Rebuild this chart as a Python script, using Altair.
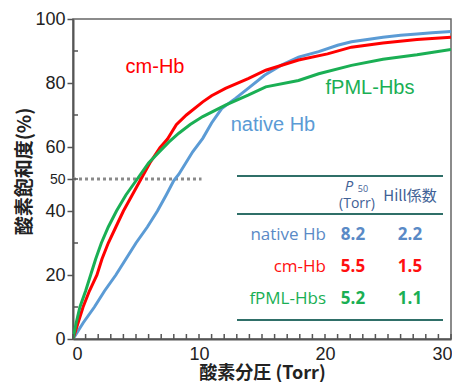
import altair as alt
import pandas as pd

# ---- data ----
native_x = [0, 0.8, 1.7, 2.5, 3.4, 4.2, 5.0, 5.9, 6.7, 7.4, 8.0, 8.4, 9.5, 10.3, 11.0, 11.8, 12.9, 13.9, 15.2, 16.5, 17.9, 19.5, 21.0, 22.1, 23.5, 24.6, 26.0, 27.3, 28.5, 30]
native_y = [0, 5, 10, 15, 20, 25, 30, 35, 40, 45, 49.5, 51.5, 58.5, 62.7, 67.5, 72, 75.2, 78.3, 82.4, 85.5, 88.1, 89.8, 91.8, 92.9, 93.7, 94.3, 94.9, 95.3, 95.7, 96.1]

cm_x = [0, 0.4, 0.8, 1.3, 1.9, 2.3, 2.8, 3.4, 4.0, 4.7, 5.4, 6.1, 6.9, 7.5, 8.2, 9.0, 10.3, 11.0, 12.1, 13.9, 15.3, 17.9, 20.2, 22.1, 24.6, 27.3, 30]
cm_y = [0, 5, 10, 15, 20, 25, 30, 35, 40, 45, 50, 55, 59.8, 62.5, 67, 70, 74.1, 76, 78.3, 81.4, 84, 87.2, 89.1, 91.2, 92.5, 93.6, 94.3]

fpml_x = [0, 0.25, 0.55, 1.0, 1.4, 1.8, 2.25, 2.8, 3.45, 4.2, 5.1, 6.0, 6.9, 7.6, 8.4, 9.3, 10.3, 12.1, 13.9, 15.3, 17.9, 19.5, 22.1, 24.6, 27.3, 30]
fpml_y = [0, 5, 10, 15, 20, 25, 30, 35, 40, 45, 50, 55, 58.7, 61.5, 64.3, 67, 69.5, 73.1, 76.2, 78.8, 80.8, 82.9, 85.5, 87.4, 88.8, 90.5]

series_names = ["native Hb", "cm-Hb", "fPML-Hbs"]
series_colors = ["#5b9bd5", "#ff0000", "#1aaf54"]
table_colors = ["#5a8ac6", "#ff1010", "#1aaf54"]
p50_values = ["8.2", "5.5", "5.2"]
hill_values = ["2.2", "1.5", "1.1"]

y_tick_values = [0, 20, 40, 50, 60, 80, 100]
y_minor_ticks = [10, 30, 50, 70, 90]
x_tick_values = [0, 10, 20, 30]
x_minor_ticks = list(range(0, 31))
p50_line_y = 50
p50_line_x_end = 10.2

rows = []
for name, xs, ys in [("native Hb", native_x, native_y), ("cm-Hb", cm_x, cm_y), ("fPML-Hbs", fpml_x, fpml_y)]:
    for a, b in zip(xs, ys):
        rows.append({"series": name, "x": a, "y": b})
df = pd.DataFrame(rows)

LEFT, TOP = 65, 11
W, H = 378, 320
OX, OY = 8 + LEFT, 8 + TOP   # page position of the plot's top-left corner
xscale = alt.Scale(domain=[0, 30], nice=False)
yscale = alt.Scale(domain=[0, 100], nice=False)
color = alt.Color("series:N", scale=alt.Scale(domain=series_names, range=series_colors), legend=None)

lines = alt.Chart(df).mark_line(strokeWidth=3, clip=True).encode(
    x=alt.X("x:Q", scale=xscale,
            axis=alt.Axis(values=x_tick_values, title="酸素分圧 (Torr)", ticks=False,
                          labelFontSize=18, labelFont="Liberation Sans", labelColor="#222",
                          labelPadding=6, labelFlush=True, labelFlushOffset=1,
                          titleFont="Noto Sans CJK JP", titleFontSize=18,
                          titleFontWeight="bold", titleColor="#222", titlePadding=1,
                          grid=False, domainColor="#555", domainWidth=2)),
    y=alt.Y("y:Q", scale=yscale,
            axis=alt.Axis(values=y_tick_values, title="酸素飽和度(%)", tickSize=6, tickColor="#555",
                          tickWidth=1.5,
                          labelFontSize={"condition": {"test": "datum.value == 50", "value": 14}, "value": 18},
                          labelFont="Liberation Sans", labelColor="#222", labelPadding=2,
                          titleFont="Noto Sans CJK JP", titleFontSize=19, titleFontWeight="bold",
                          titleColor="#222", titleX=-49, titleY=152, titleAngle=-90,
                          titleAlign="center", titleBaseline="middle",
                          grid=False, domainColor="#555", domainWidth=2)),
    color=color,
    order=alt.Order("x:Q"),
)

dash = alt.Chart(pd.DataFrame({"y": [p50_line_y]})).mark_rule(
    color="#8a8a8a", strokeDash=[3, 3], strokeWidth=3
).encode(y="y:Q", x=alt.datum(0), x2=alt.datum(p50_line_x_end))

xticks = alt.Chart(pd.DataFrame({"t": x_minor_ticks})).mark_rule(color="#555", strokeWidth=1.5).encode(
    x=alt.X("t:Q", scale=xscale), y=alt.value(H), y2=alt.value(H - 5))
yticks = alt.Chart(pd.DataFrame({"t": y_minor_ticks})).mark_rule(color="#555", strokeWidth=1.5).encode(
    y=alt.Y("t:Q", scale=yscale), x=alt.value(0), x2=alt.value(5))

base = alt.Chart(pd.DataFrame({"a": [0]}))

def label(text, px, py, col, size=20, font="Liberation Sans", weight="normal", align="center", style="normal"):
    return base.mark_text(text=text, color=col, fontSize=size, font=font, fontWeight=weight,
                          align=align, baseline="middle", fontStyle=style).encode(
        x=alt.value(px - OX), y=alt.value(py - OY))

curve_labels = [
    label("cm-Hb", 155, 67, series_colors[1]),
    label("fPML-Hbs", 370, 88, series_colors[2]),
    label("native Hb", 273, 125, series_colors[0]),
]

teal = "#2f6f68"
table_rules = [
    base.mark_rule(color=teal, strokeWidth=2).encode(x=alt.value(237 - OX), x2=alt.value(443 - OX), y=alt.value(yy - OY))
    for yy in [176, 214, 320]
]

hdr_col = "#3f6196"
header = [
    label("P", 349, 186, hdr_col, size=15, font="Open Sans", style="italic"),
    label("50", 363, 189, hdr_col, size=9, font="Open Sans"),
    label("(Torr)", 357, 204, hdr_col, size=14, font="Open Sans"),
    label("Hill係数", 410, 196, hdr_col, size=15, font="Noto Sans CJK JP"),
]

row_y = [235, 267, 299]
table_text = []
for name, c, p, h, ry in zip(series_names, table_colors, p50_values, hill_values, row_y):
    table_text.append(label(name, 326, ry, c, size=17, font="Open Sans", align="right"))
    table_text.append(label(p, 353, ry, c, size=17, font="Open Sans", weight="bold"))
    table_text.append(label(h, 410, ry, c, size=17, font="Open Sans", weight="bold"))

chart = alt.layer(dash, lines, xticks, yticks, *curve_labels, *table_rules, *header, *table_text).properties(
    width=W, height=H,
    autosize=alt.AutoSizeParams(type="none"),
    padding={"left": LEFT, "top": TOP, "right": 1, "bottom": 43},
    background="white",
).configure_view(stroke="#666", strokeWidth=1.5)

chart.save("out.html", embed_options={"renderer": "svg", "actions": False})
